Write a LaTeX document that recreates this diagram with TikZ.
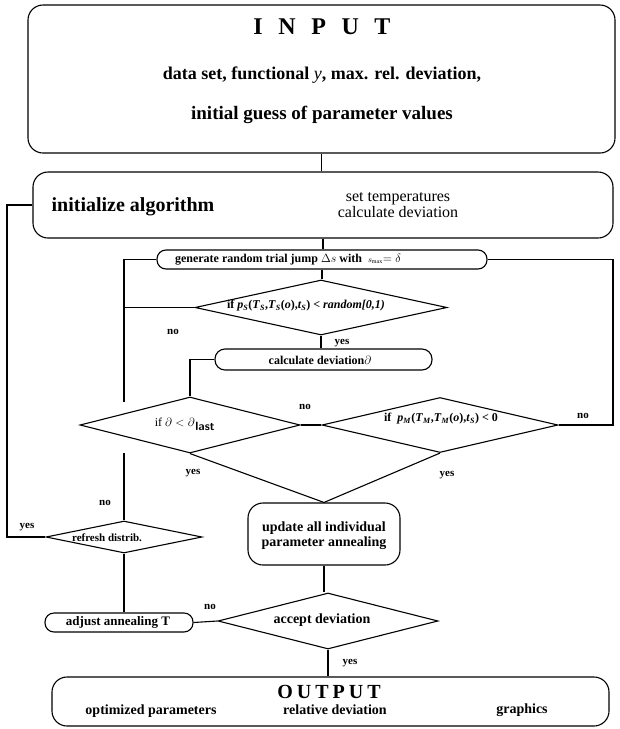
\documentclass[tikz,border=0pt]{standalone}
\usepackage{fontspec}
\setmainfont{Liberation Serif}
\usetikzlibrary{shapes.geometric}

\newcommand{\fs}[1]{\fontsize{#1}{#1}\selectfont}
\newcommand{\gap}[1][.45em]{\hspace{#1}}
\newcommand{\isub}[2]{\textit{#1}\textsubscript{\textit{#2}}}

\begin{document}
\begin{tikzpicture}[x=1pt,y=-1pt,line width=1.1pt,
    box/.style={draw,rounded corners=15pt,inner sep=0pt},
    pill/.style={draw,rounded corners=9pt,inner sep=0pt},
    dia/.style={draw,diamond,inner sep=0pt},
    txt/.style={inner sep=0pt,align=center},
    lbl/.style={inner sep=0pt,font=\bfseries\fs{11}}]
    \useasboundingbox (0,0) rectangle (620,729);

    % shapes
    \node[box,minimum width=587pt,minimum height=148pt] (input) at (321.5,79) {};
    \node[box,minimum width=580pt,minimum height=66pt] (init) at (323,205) {};
    \node[pill,minimum width=330pt,minimum height=19pt] (gen) at (322,259.5) {};
    \node[dia,minimum width=252pt,minimum height=55pt] (ps) at (321,307.5) {};
    \node[pill,rounded corners=10pt,minimum width=217pt,minimum height=21pt] (calc) at (323.5,359.5) {};
    \node[dia,minimum width=220pt,minimum height=56pt] (dlast) at (190,425) {};
    \node[dia,minimum width=236pt,minimum height=55pt] (pm) at (440,425) {};
    \node[box,minimum width=152pt,minimum height=62pt] (update) at (324,534) {};
    \node[dia,minimum width=220pt,minimum height=56pt] (accept) at (328,621) {};
    \node[dia,minimum width=156pt,minimum height=32pt] (refresh) at (124,537) {};
    \node[pill,minimum width=148pt,minimum height=19pt] (adjust) at (119,622.5) {};
    \node[box,minimum width=557pt,minimum height=49pt] (output) at (330.5,701.5) {};

    % texts
    \node[txt,font=\bfseries\fs{24}] (intitle) at (322,27) {I\gap[.65em]N\gap[.65em]P\gap[.65em]U\gap[.65em]T};
    \node[txt,font=\bfseries\fs{18}] (inline1) at (322,75) {data set, functional \textit{\mdseries y}, max. rel. deviation,};
    \node[txt,font=\bfseries\fs{19}] (inline2) at (322,115) {initial guess of parameter values};
    \node[txt,font=\bfseries\fs{20}] (initname) at (133,207) {initialize algorithm};
    \node[txt,font=\fs{16}] (initsteps) at (398,205) {set temperatures\\calculate deviation};
    \node[txt,font=\bfseries\fs{12}] (gentxt) at (288,260) {generate random trial jump $\Delta s$ with \ {\footnotesize$s_{\max}$}$=\delta$};
    \node[txt,font=\bfseries\fs{12}] (pstxt) at (306,306) {if \isub{p}{S}(\isub{T}{S},\isub{T}{S}(\textit{o}),\isub{t}{S}) < \textit{random[0,1)}};
    \node[txt,font=\bfseries\fs{12}] (calctxt) at (320,360) {calculate deviation$\partial$};
    \node[txt,font=\fs{12}] (dlasttxt) at (185,424) {if $\partial < \partial_{\,\textsf{\textbf{last}}}$};
    \node[txt,font=\bfseries\fs{12}] (pmtxt) at (441,419) {if \ \isub{p}{M}(\isub{T}{M},\isub{T}{M}(\textit{o}),\isub{t}{S}) < 0};
    \node[txt,font=\bfseries\fs{14}] (updtxt) at (324,535.5) {update all individual\\[1pt]parameter annealing};
    \node[txt,font=\bfseries\fs{14}] (acctxt) at (322,620) {accept deviation};
    \node[txt,font=\bfseries\fs{11}] (refreshtxt) at (107,538) {refresh distrib.};
    \node[txt,font=\bfseries\fs{13}] (adjtxt) at (118,622) {adjust annealing T};
    \node[txt,font=\bfseries\fs{20}] (outtitle) at (329,692) {O\gap[.2em]U\gap[.2em]T\gap[.2em]P\gap[.2em]U\gap[.2em]T};
    \node[txt,font=\bfseries\fs{14}] (outopt) at (151,711) {optimized parameters};
    \node[txt,font=\bfseries\fs{14}] (outrel) at (335,710) {relative deviation};
    \node[txt,font=\bfseries\fs{14}] (outgra) at (522,710) {graphics};

    % yes / no
    \node[lbl] (nops) at (173,332) {no};
    \node[lbl] (yesps) at (342,343) {yes};
    \node[lbl] (nomid) at (305,407) {no};
    \node[lbl] (nopm) at (583,416) {no};
    \node[lbl] (yesdl) at (193,473) {yes};
    \node[lbl] (yespm) at (447,475) {yes};
    \node[lbl] (norf) at (105,503) {no};
    \node[lbl] (yesrf) at (27,527) {yes};
    \node[lbl] (noacc) at (210,607) {no};
    \node[lbl] (yesacc) at (350,663) {yes};

    % loop corners
    \coordinate (leftx) at (7,0);
    \coordinate (rightx) at (613,0);
    \coordinate (gapup) at (124,402);
    \coordinate (gapdn) at (124,453);

    % main line
    \draw (input.south) -- (input.south |- init.north);
    \draw (init.south) -- (init.south |- gen.north);
    \draw (gen.south) -- (gen.south |- ps.north);
    \draw (ps.south) -- (ps.south |- calc.north);
    \draw (calc.west) -| (dlast.north);
    \draw (dlast.east) -- (pm.west);
    \draw (dlast.south) -- (update.north) -- (pm.south);
    \draw (update.south) -- (update.south |- accept.north);
    \draw (accept.south) -- (accept.south |- output.north);
    \draw (accept.west) -- (adjust.east);
    \draw (refresh.south) -- (refresh.south |- adjust.north);

    % loops
    \draw (gen.west) -| (gapup);
    \draw (ps.west) -- (ps.west -| gapup);
    \draw (gapdn) -- (gapdn |- refresh.north);
    \draw (gen.east) -- (gen.east -| rightx) |- (pm.east);
    \draw (refresh.west) -- (refresh.west -| leftx) |- (init.west);
\end{tikzpicture}
\end{document}
